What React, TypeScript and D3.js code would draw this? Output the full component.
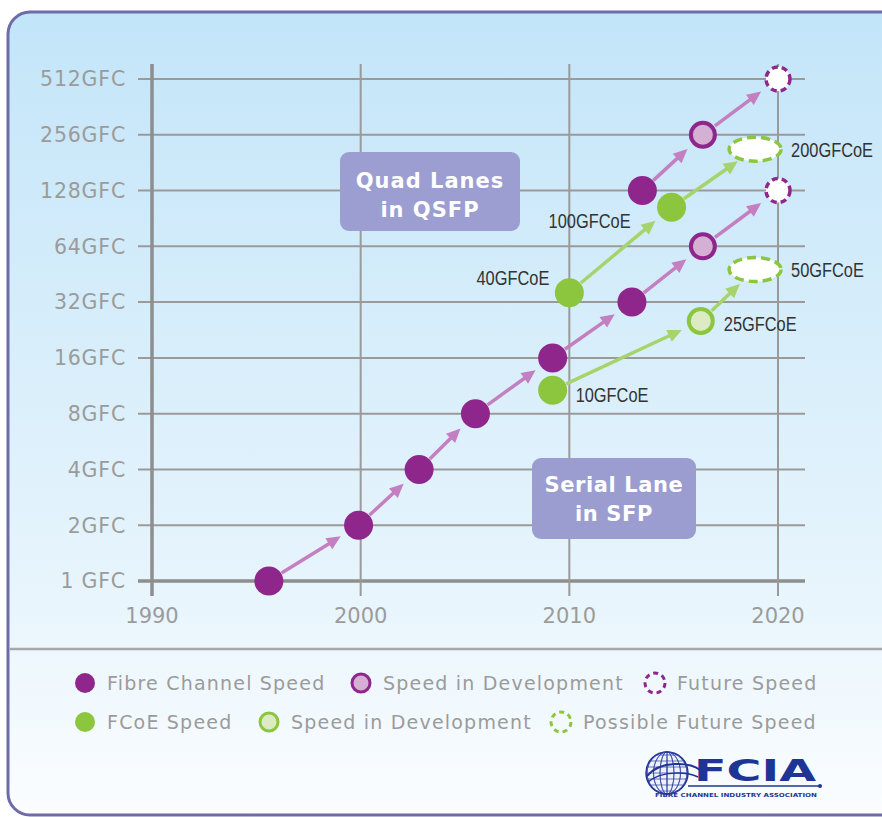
import React from "react";
import * as d3 from "d3";

const W = 882;
const H = 817;

const yTicks = [1, 2, 4, 8, 16, 32, 64, 128, 256, 512];
const yTickLabels = ["1 GFC", "2GFC", "4GFC", "8GFC", "16GFC", "32GFC", "64GFC", "128GFC", "256GFC", "512GFC"];
const xTicks = [1990, 2000, 2010, 2020];

// Fibre Channel speeds (shipping)
const fcIds = ["fc1", "fc2", "fc4", "fc8", "fc16", "fc32", "fc128q"];
const fcYears = [1995.6, 1999.9, 2002.8, 2005.5, 2009.2, 2013.0, 2013.5];
const fcSpeeds = [1, 2, 4, 8, 16, 32, 128];
// Fibre Channel speeds in development
const fcDevIds = ["fc64", "fc256"];
const fcDevYears = [2016.4, 2016.4];
const fcDevSpeeds = [64, 256];
// Fibre Channel future speeds
const fcFutIds = ["fc128", "fc512"];
const fcFutYears = [2020, 2020];
const fcFutSpeeds = [128, 512];

// FCoE speeds
const fcoeIds = ["e10", "e40", "e100"];
const fcoeYears = [2009.2, 2010.0, 2014.9];
const fcoeSpeeds = [10.7, 36, 104];
const fcoeLabels = ["10GFCoE", "40GFCoE", "100GFCoE"];
// FCoE in development
const fcoeDevIds = ["e25"];
const fcoeDevYears = [2016.3];
const fcoeDevSpeeds = [25.3];
const fcoeDevLabels = ["25GFCoE"];
// FCoE possible future
const fcoeFutIds = ["e50", "e200"];
const fcoeFutYears = [2018.9, 2018.9];
const fcoeFutSpeeds = [48, 214];
const fcoeFutLabels = ["50GFCoE", "200GFCoE"];

const fcLinks = [
  ["fc1", "fc2"], ["fc2", "fc4"], ["fc4", "fc8"], ["fc8", "fc16"], ["fc16", "fc32"],
  ["fc32", "fc64"], ["fc64", "fc128"], ["fc128q", "fc256"], ["fc256", "fc512"],
];
const fcoeLinks = [["e10", "e25"], ["e25", "e50"], ["e40", "e100"], ["e100", "e200"]];

const PURPLE = "#8f268c";
const PURPLE_LIGHT = "#d5b0d4";
const PURPLE_ARROW = "#c47fc0";
const GREEN = "#8cc63f";
const GREEN_LIGHT = "#dcebc4";
const GREEN_ARROW = "#a7d36c";
const GRID = "#9a9a9a";
const LABEL = "#9b9b9b";

const x = d3.scaleLinear().domain([1990, 2020]).range([152, 778]);
const y = d3.scaleLog().base(2).domain([1, 512]).range([581, 79]);

type Node = { id: string; year: number; speed: number };
function mk(ids: string[], years: number[], speeds: number[]): Node[] {
  return ids.map((id, i) => ({ id, year: years[i], speed: speeds[i] }));
}
const fcNodes = mk(fcIds, fcYears, fcSpeeds);
const fcDevNodes = mk(fcDevIds, fcDevYears, fcDevSpeeds);
const fcFutNodes = mk(fcFutIds, fcFutYears, fcFutSpeeds);
const fcoeNodes = mk(fcoeIds, fcoeYears, fcoeSpeeds);
const fcoeDevNodes = mk(fcoeDevIds, fcoeDevYears, fcoeDevSpeeds);
const fcoeFutNodes = mk(fcoeFutIds, fcoeFutYears, fcoeFutSpeeds);
const allNodes = [...fcNodes, ...fcDevNodes, ...fcFutNodes, ...fcoeNodes, ...fcoeDevNodes, ...fcoeFutNodes];
const byId = new Map(allNodes.map((n) => [n.id, n]));

function Arrow({ from, to, color }: { from: string; to: string; color: string }) {
  const a = byId.get(from)!;
  const b = byId.get(to)!;
  const x1 = x(a.year), y1 = y(a.speed), x2 = x(b.year), y2 = y(b.speed);
  const dx = x2 - x1, dy = y2 - y1;
  const len = Math.hypot(dx, dy);
  const ux = dx / len, uy = dy / len;
  const sx = x1 + ux * 15, sy = y1 + uy * 15;
  const tx = x2 - ux * 21, ty = y2 - uy * 21;
  const hl = 14, hw = 6.5;
  const bx = tx - ux * hl, by = ty - uy * hl;
  const px = -uy, py = ux;
  const head = `M${tx},${ty} L${bx + px * hw},${by + py * hw} L${bx - px * hw},${by - py * hw} Z`;
  return (
    <g>
      <line x1={sx} y1={sy} x2={bx + ux * 2} y2={by + uy * 2} stroke={color} strokeWidth={3.5} />
      <path d={head} fill={color} />
    </g>
  );
}

const tickFont = "'DejaVu Sans', Verdana, sans-serif";
const narrowFont = "'Liberation Sans', Arial, sans-serif";

function NarrowLabel({ tx, ty, anchor, label }: { tx: number; ty: number; anchor: "start" | "end"; label: string }) {
  return (
    <g transform={`translate(${tx},${ty}) scale(0.8,1)`}>
      <text x={0} y={0} dy="0.36em" textAnchor={anchor} fontFamily={narrowFont} fontSize={20.5} fill="#333333">{label}</text>
    </g>
  );
}

function Logo() {
  const cx = 667, cy = 773, r = 21;
  const lines = [];
  for (let i = -3; i <= 3; i++) {
    lines.push(<ellipse key={"m" + i} cx={cx} cy={cy} rx={Math.abs(i) * 6.5 + 0.5} ry={r} fill="none" stroke="#2b3f9e" strokeWidth={0.7} />);
    const yy = cy + (i * r) / 3.5;
    const hw = Math.sqrt(Math.max(0, r * r - (yy - cy) ** 2));
    lines.push(<line key={"p" + i} x1={cx - hw} x2={cx + hw} y1={yy} y2={yy} stroke="#2b3f9e" strokeWidth={0.7} />);
  }
  return (
    <g>
      <circle cx={cx} cy={cy} r={r} fill="#eef1fa" stroke="#1f3595" strokeWidth={1.5} />
      {lines}
      <path d={`M647,776 C660,760 690,762 700,770`} fill="none" stroke="#1f3595" strokeWidth={2} />
      <path d={`M648,782 C662,770 688,772 698,777`} fill="none" stroke="#1f3595" strokeWidth={1.5} />
      <text x={694} y={781} fontFamily="'DejaVu Sans', sans-serif" fontWeight="bold" fontSize={30}
        fill="#1f3595" textLength={122} lengthAdjust="spacingAndGlyphs">FCIA</text>
      <line x1={688} x2={819} y1={786} y2={786} stroke="#1f3595" strokeWidth={1.5} />
      <circle cx={820} cy={786} r={2} fill="#1f3595" />
      <text x={655} y={797} fontFamily="'DejaVu Sans', sans-serif" fontWeight="bold" fontSize={5.5}
        fill="#1f3595" textLength={162} lengthAdjust="spacingAndGlyphs">FIBRE CHANNEL INDUSTRY ASSOCIATION</text>
    </g>
  );
}

function LegendItem({ lx, ly, kind, label }: { lx: number; ly: number; kind: string; label: string }) {
  let marker;
  if (kind === "fc") marker = <circle cx={lx} cy={ly} r={10} fill={PURPLE} />;
  else if (kind === "fcdev") marker = <circle cx={lx} cy={ly} r={9} fill={PURPLE_LIGHT} stroke={PURPLE} strokeWidth={3} />;
  else if (kind === "fcfut") marker = <circle cx={lx} cy={ly} r={10} fill="none" stroke={PURPLE} strokeWidth={3} strokeDasharray="5,4" />;
  else if (kind === "e") marker = <circle cx={lx} cy={ly} r={10} fill={GREEN} />;
  else if (kind === "edev") marker = <circle cx={lx} cy={ly} r={9} fill={GREEN_LIGHT} stroke={GREEN} strokeWidth={3} />;
  else marker = <circle cx={lx} cy={ly} r={10} fill="none" stroke={GREEN} strokeWidth={3} strokeDasharray="5,4" />;
  return (
    <g>
      {marker}
      <text x={lx + 22} y={ly} dy="0.35em" fontFamily={tickFont} fontSize={19} fill={LABEL} letterSpacing={1.2}>{label}</text>
    </g>
  );
}

export default function App() {
  const gridLeft = 138, gridRight = 805, gridTop = 64, gridBottom = 596;
  return (
    <svg width={W} height={H} style={{ position: "absolute", left: 0, top: 0 }}>
      <defs>
        <linearGradient id="bg" x1="0" y1="0" x2="0" y2="1">
          <stop offset="0" stopColor="#c3e5f9" />
          <stop offset="0.7" stopColor="#e6f4fc" />
          <stop offset="1" stopColor="#fbfdff" />
        </linearGradient>
      </defs>
      <rect x={0} y={0} width={W} height={H} fill="#ffffff" />
      <rect x={8} y={12} width={1000} height={803} rx={22} fill="url(#bg)" stroke="#6d6ba8" strokeWidth={3} />
      <line x1={9} x2={W} y1={649} y2={649} stroke="#a6a8ab" strokeWidth={2.5} />

      {/* grid */}
      {yTicks.map((t) => (
        <line key={"h" + t} x1={gridLeft} x2={gridRight} y1={y(t)} y2={y(t)}
          stroke={t === 1 ? "#8e8e8e" : GRID} strokeWidth={t === 1 ? 3.5 : 2} />
      ))}
      {xTicks.map((t) => (
        <line key={"v" + t} x1={x(t)} x2={x(t)} y1={gridTop} y2={gridBottom}
          stroke={t === 1990 ? "#8e8e8e" : GRID} strokeWidth={t === 1990 ? 3.5 : 2} />
      ))}
      {yTicks.map((t, i) => (
        <text key={"yl" + t} x={126} y={y(t)} dy="0.36em" textAnchor="end" fontFamily={tickFont}
          fontSize={20.5} fill={LABEL} letterSpacing={0.8}>{yTickLabels[i]}</text>
      ))}
      {xTicks.map((t) => (
        <text key={"xl" + t} x={x(t)} y={615} dy="0.36em" textAnchor="middle" fontFamily={tickFont}
          fontSize={21} fill={LABEL}>{t}</text>
      ))}

      {/* label boxes */}
      <rect x={340} y={152} width={180} height={79} rx={9} fill="#9c9dd0" />
      <text x={430} y={180} dy="0.36em" textAnchor="middle" fontFamily={tickFont} fontWeight="bold" fontSize={21} fill="#ffffff" letterSpacing={1}>Quad Lanes</text>
      <text x={430} y={209} dy="0.36em" textAnchor="middle" fontFamily={tickFont} fontWeight="bold" fontSize={21} fill="#ffffff" letterSpacing={1}>in QSFP</text>
      <rect x={532} y={458} width={164} height={81} rx={9} fill="#9b9dd0" />
      <text x={614} y={484} dy="0.36em" textAnchor="middle" fontFamily={tickFont} fontWeight="bold" fontSize={21} fill="#ffffff" letterSpacing={0.6}>Serial Lane</text>
      <text x={614} y={513} dy="0.36em" textAnchor="middle" fontFamily={tickFont} fontWeight="bold" fontSize={21} fill="#ffffff" letterSpacing={0.6}>in SFP</text>

      {/* arrows */}
      {fcLinks.map(([a, b]) => <Arrow key={a + b} from={a} to={b} color={PURPLE_ARROW} />)}
      {fcoeLinks.map(([a, b]) => <Arrow key={a + b} from={a} to={b} color={GREEN_ARROW} />)}

      {/* points */}
      {fcNodes.map((n) => <circle key={n.id} cx={x(n.year)} cy={y(n.speed)} r={14.5} fill={PURPLE} />)}
      {fcDevNodes.map((n) => <circle key={n.id} cx={x(n.year)} cy={y(n.speed)} r={12} fill={PURPLE_LIGHT} stroke={PURPLE} strokeWidth={4} />)}
      {fcFutNodes.map((n) => <circle key={n.id} cx={x(n.year)} cy={y(n.speed)} r={12} fill="#ffffff" stroke={PURPLE} strokeWidth={3.5} strokeDasharray="6,4" />)}
      {fcoeNodes.map((n) => <circle key={n.id} cx={x(n.year)} cy={y(n.speed)} r={14.5} fill={GREEN} />)}
      {fcoeDevNodes.map((n) => <circle key={n.id} cx={x(n.year)} cy={y(n.speed)} r={12} fill={GREEN_LIGHT} stroke={GREEN} strokeWidth={4} />)}
      {fcoeFutNodes.map((n) => <ellipse key={n.id} cx={x(n.year)} cy={y(n.speed)} rx={26} ry={12} fill="#ffffff" stroke={GREEN} strokeWidth={3.5} strokeDasharray="9,5" />)}

      {/* FCoE labels */}
      <NarrowLabel tx={x(fcoeYears[0]) + 23} ty={y(fcoeSpeeds[0]) + 4} anchor="start" label={fcoeLabels[0]} />
      <NarrowLabel tx={x(fcoeYears[1]) - 20} ty={y(fcoeSpeeds[1]) - 15} anchor="end" label={fcoeLabels[1]} />
      <NarrowLabel tx={x(fcoeYears[2]) - 41} ty={y(fcoeSpeeds[2]) + 13} anchor="end" label={fcoeLabels[2]} />
      <NarrowLabel tx={x(fcoeDevYears[0]) + 23} ty={y(fcoeDevSpeeds[0]) + 3} anchor="start" label={fcoeDevLabels[0]} />
      <NarrowLabel tx={x(fcoeFutYears[0]) + 36} ty={y(fcoeFutSpeeds[0])} anchor="start" label={fcoeFutLabels[0]} />
      <NarrowLabel tx={x(fcoeFutYears[1]) + 36} ty={y(fcoeFutSpeeds[1])} anchor="start" label={fcoeFutLabels[1]} />

      {/* legend */}
      <LegendItem lx={85} ly={683} kind="fc" label="Fibre Channel Speed" />
      <LegendItem lx={361} ly={683} kind="fcdev" label="Speed in Development" />
      <LegendItem lx={655} ly={683} kind="fcfut" label="Future Speed" />
      <LegendItem lx={85} ly={722} kind="e" label="FCoE Speed" />
      <LegendItem lx={269} ly={722} kind="edev" label="Speed in Development" />
      <LegendItem lx={561} ly={722} kind="efut" label="Possible Future Speed" />

      <Logo />
    </svg>
  );
}
